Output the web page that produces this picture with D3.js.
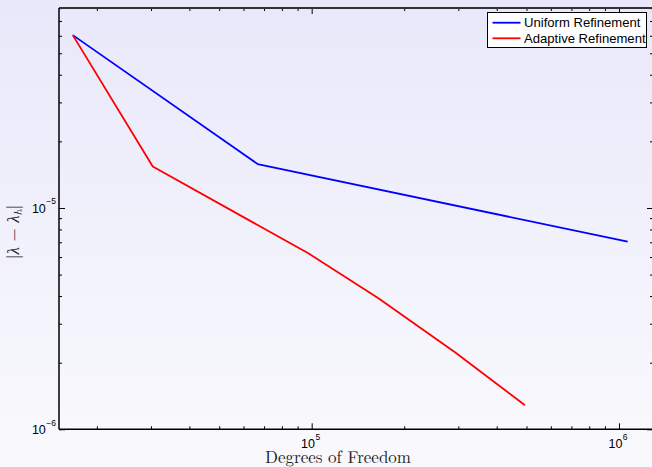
<!DOCTYPE html>
<html>
<head>
<meta charset="utf-8">
<script src="https://cdn.jsdelivr.net/npm/d3@7"></script>
<style>
  html, body { margin: 0; padding: 0; background: #f4f4fc; }
  svg { display: block; }
  .tick line { stroke: #000; }
</style>
</head>
<body>
<svg id="chart" width="652" height="467"></svg>
<script>
// Degrees of freedom and eigenvalue error for each refinement strategy
const dofUniform = [16700, 66700, 1067000];
const errUniform = [6.04e-5, 1.58e-5, 7.04e-6];
const dofAdaptive = [16700, 30400, 97500, 164400, 292600, 494300];
const errAdaptive = [6.04e-5, 1.54e-5, 6.24e-6, 3.92e-6, 2.23e-6, 1.285e-6];

const seriesNames = ["Uniform Refinement", "Adaptive Refinement"];
const seriesColors = ["#0000ff", "#ff0000"];

// Decade ticks and the exponents printed on them
const xMajorTicks = [1e5, 1e6];
const xTickExponents = ["5", "6"];
const yMajorTicks = [1e-6, 1e-5];
const yTickExponents = ["\u22126", "\u22125"];

const xTitle = "Degrees of Freedom";

const W = 652, H = 467;
const plot = { left: 59, top: 8, right: 653, bottom: 429.3 };

const svg = d3.select("#chart");

// figure background: soft vertical gradient
const defs = svg.append("defs");
const grad = defs.append("linearGradient").attr("id", "bg")
  .attr("x1", 0).attr("y1", 0).attr("x2", 0).attr("y2", 1);
grad.append("stop").attr("offset", "0%").attr("stop-color", "#e8e8fa");
grad.append("stop").attr("offset", "55%").attr("stop-color", "#f2f2fc");
grad.append("stop").attr("offset", "100%").attr("stop-color", "#f9f9fd");
svg.append("rect").attr("width", W).attr("height", H).attr("fill", "url(#bg)");

const x = d3.scaleLog().domain([15060, 1.29e6]).range([plot.left, plot.right]);
const y = d3.scaleLog().domain([1e-6, 8.01e-5]).range([plot.bottom, plot.top]);

// minor tick positions: 2..9 within each decade inside the domain
function minorTicks(scale) {
  const [a, b] = scale.domain();
  const out = [];
  for (let e = Math.floor(Math.log10(a)); e <= Math.ceil(Math.log10(b)); e++) {
    for (let m = 2; m <= 9; m++) {
      const v = m * Math.pow(10, e);
      if (v > a && v < b) out.push(v);
    }
  }
  return out;
}
const xMinor = minorTicks(x);
const yMinor = minorTicks(y);

function drawAxis(axisFn, scale, values, size, transform) {
  const g = svg.append("g").attr("transform", transform)
    .call(axisFn(scale).tickValues(values).tickSize(size).tickFormat(""));
  g.select(".domain").remove();
  g.selectAll(".tick line").attr("stroke", "#000").attr("stroke-width", 1);
  return g;
}

// inward-pointing ticks on all four sides
drawAxis(d3.axisBottom, x, xMajorTicks, -6, `translate(0,${plot.bottom})`);
drawAxis(d3.axisBottom, x, xMinor, -3, `translate(0,${plot.bottom})`);
drawAxis(d3.axisTop, x, xMajorTicks, -6, `translate(0,${plot.top})`);
drawAxis(d3.axisTop, x, xMinor, -3, `translate(0,${plot.top})`);
drawAxis(d3.axisLeft, y, yMajorTicks, -6, `translate(${plot.left},0)`);
drawAxis(d3.axisLeft, y, yMinor, -3, `translate(${plot.left},0)`);
drawAxis(d3.axisRight, y, yMajorTicks, -6, `translate(${plot.right},0)`);
drawAxis(d3.axisRight, y, yMinor, -3, `translate(${plot.right},0)`);

// axes frame
svg.append("line").attr("x1", plot.left).attr("x2", plot.right)
  .attr("y1", plot.top).attr("y2", plot.top)
  .attr("stroke", "#333").attr("stroke-width", 2);
svg.append("line").attr("x1", plot.left).attr("x2", plot.right)
  .attr("y1", plot.bottom).attr("y2", plot.bottom)
  .attr("stroke", "#000").attr("stroke-width", 1.5);
svg.append("line").attr("x1", plot.left).attr("x2", plot.left)
  .attr("y1", plot.top).attr("y2", plot.bottom)
  .attr("stroke", "#000").attr("stroke-width", 1.5);

// tick labels: 10 with a superscript exponent
const labelFont = "'Liberation Sans', Arial, Helvetica, sans-serif";
xMajorTicks.forEach((v, i) => {
  const t = svg.append("text")
    .attr("x", x(v) - 1).attr("y", 448)
    .attr("text-anchor", "middle")
    .attr("font-family", labelFont).attr("font-size", 12.5).attr("fill", "#000");
  t.append("tspan").text("10");
  t.append("tspan").attr("dx", 0.5).attr("dy", -8.5).attr("font-size", 8.5).text(xTickExponents[i]);
});
yMajorTicks.forEach((v, i) => {
  const t = svg.append("text")
    .attr("x", 56).attr("y", y(v) + 4.8)
    .attr("text-anchor", "end")
    .attr("font-family", labelFont).attr("font-size", 12.5).attr("fill", "#000");
  t.append("tspan").text("10");
  t.append("tspan").attr("dx", 0.5).attr("dy", -8.5).attr("font-size", 8.5).text(yTickExponents[i]);
});

// axis titles
const serif = "'Latin Modern Roman', 'CMU Serif', 'Liberation Serif', 'Times New Roman', serif";
svg.append("text")
  .attr("x", 338).attr("y", 462.5)
  .attr("text-anchor", "middle")
  .attr("font-family", serif).attr("font-size", 17).attr("fill", "#222")
  .text(xTitle);

const yTitle = svg.append("text")
  .attr("transform", "translate(19,232) rotate(-90)")
  .attr("text-anchor", "middle")
  .attr("font-family", serif).attr("font-size", 17).attr("fill", "#222");
yTitle.append("tspan").text("|");
yTitle.append("tspan").attr("font-style", "italic").text("\u03bb");
yTitle.append("tspan").text(" \u2212 ");
yTitle.append("tspan").attr("font-style", "italic").text("\u03bb");
yTitle.append("tspan").attr("font-style", "italic").attr("font-size", 11.5).attr("dy", 3).text("h");
yTitle.append("tspan").attr("dy", -3).text("|");

// error curves
const line = d3.line().x(d => x(d[0])).y(d => y(d[1]));
const series = [
  d3.zip(dofUniform, errUniform),
  d3.zip(dofAdaptive, errAdaptive)
];
svg.append("clipPath").attr("id", "plotClip").append("rect")
  .attr("x", plot.left).attr("y", plot.top)
  .attr("width", plot.right - plot.left).attr("height", plot.bottom - plot.top);
svg.append("g").attr("clip-path", "url(#plotClip)")
  .selectAll("path").data(series).join("path")
  .attr("d", line)
  .attr("fill", "none")
  .attr("stroke", (d, i) => seriesColors[i])
  .attr("stroke-width", 1.8)
  .attr("stroke-linejoin", "round");

// legend
const lg = svg.append("g");
lg.append("rect").attr("x", 487.5).attr("y", 12.5).attr("width", 159).attr("height", 35)
  .attr("fill", "#fff").attr("stroke", "#000").attr("stroke-width", 1);
seriesNames.forEach((name, i) => {
  const cy = 22.7 + i * 15.6;
  lg.append("line").attr("x1", 492.5).attr("x2", 520.5).attr("y1", cy).attr("y2", cy)
    .attr("stroke", seriesColors[i]).attr("stroke-width", 1.8);
  lg.append("text").attr("x", 524).attr("y", cy + 4.5)
    .attr("font-family", labelFont).attr("font-size", 13.1).attr("fill", "#000")
    .text(name);
});
</script>
</body>
</html>
